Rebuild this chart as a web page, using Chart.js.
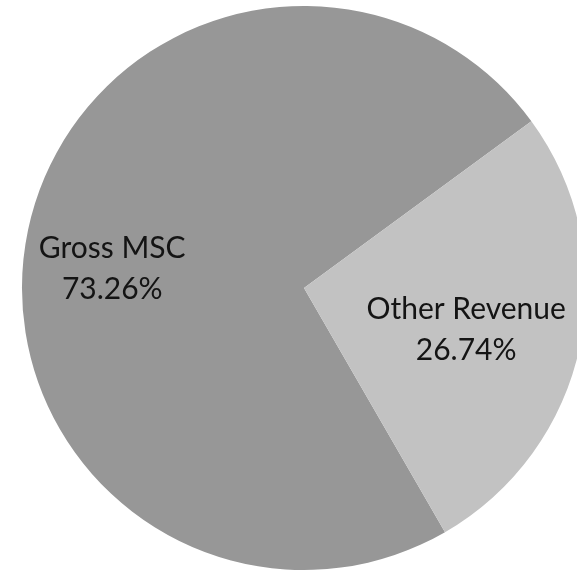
<!DOCTYPE html>
<html>
<head>
<meta charset="utf-8">
<script src="https://cdn.jsdelivr.net/npm/chart.js@4"></script>
<style>
  html, body { margin:0; padding:0; background:#fff; overflow:hidden; }
  #wrap { position:relative; width:608px; height:574px; }
</style>
</head>
<body>
<div id="wrap"><canvas id="grafico"></canvas></div>
<script>
// ─── DADOS ───────────────────────────────────────────────────────────────────
const categorias = ["Gross MSC", "Other Revenue"];
const percentuais = [73.26, 26.74];
const cores = ["#979797", "#c2c2c2"];

// rótulos dentro das fatias (posição relativa ao raio)
const posRotulos = [
  { dx: -0.68, dy: -0.068 },
  { dx: 0.575, dy: 0.146 }
];

const rotulosPlugin = {
  id: "rotulos",
  afterDatasetsDraw(chart){
    const ctx = chart.ctx;
    const arcs = chart.getDatasetMeta(0).data;
    ctx.save();
    ctx.fillStyle = "#141414";
    ctx.font = "30px Lato";
    ctx.textAlign = "center";
    ctx.textBaseline = "middle";
    arcs.forEach((arc, i) => {
      const r = arc.outerRadius;
      const x = arc.x + posRotulos[i].dx * r;
      const y = arc.y + posRotulos[i].dy * r;
      ctx.fillText(categorias[i], x, y - 20);
      ctx.fillText(percentuais[i].toFixed(2) + "%", x, y + 21);
    });
    ctx.restore();
  }
};

new Chart(document.getElementById("grafico").getContext("2d"), {
  type: "pie",
  data: {
    labels: categorias,
    datasets: [{ data: percentuais, backgroundColor: cores, borderWidth: 0 }]
  },
  options: {
    responsive: true, maintainAspectRatio: false,
    animation: false,
    rotation: 150,
    layout: { padding: { top: 6, bottom: 4, left: 0, right: 0 } },
    plugins: { legend: { display: false }, tooltip: { enabled: false } }
  },
  plugins: [rotulosPlugin]
});
</script>
</body>
</html>
